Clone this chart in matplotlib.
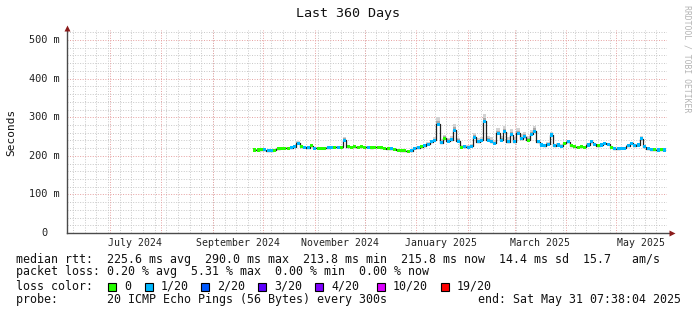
import numpy as np
import pandas as pd
import matplotlib
matplotlib.use('Agg')
import matplotlib.pyplot as plt
from matplotlib.patches import Rectangle
from matplotlib.transforms import offset_copy

plt.rc('font', family='DejaVu Sans Mono')

#%% data (median rtt in ms, every 2 days from 2024-09-26)
first_day = '2024-09-26'
median = [215, 215, 216, 216, 213, 213, 214, 218, 219, 220,
          220, 221, 223, 232, 224, 222, 221, 226, 220, 220,
          219, 220, 221, 222, 222, 222, 222, 240, 224, 222,
          223, 222, 223, 222, 222, 221, 222, 222, 221, 220,
          218, 218, 217, 214, 213, 213, 212, 213,
          220, 221, 224, 226, 230, 236, 240, 282, 234, 246, 238, 242,
          266, 238, 222, 223, 222, 225, 248, 236, 240, 290,
          240, 236, 232, 258, 240, 262, 236, 255, 236, 258,
          244, 250, 240, 256, 264, 236, 228, 226, 230, 254,
          226, 228, 225, 232, 236, 226, 223, 222, 223, 222,
          228, 236, 230, 226, 228, 232, 230, 222, 218, 218,
          219, 220, 226, 232, 226, 228, 244, 224, 218, 216,
          216, 215, 216, 215]
# loss level index per sample (0 -> 0 loss, 1 -> 1/20)
loss = [0, 0, 0, 1, 1, 1, 0, 0, 0, 0,
        0, 1, 1, 1, 0, 1, 1, 0, 1, 0,
        0, 0, 1, 1, 0, 1, 0, 1, 0, 0,
        0, 0, 0, 0, 1, 0, 0, 0, 0, 0,
        0, 1, 0, 0, 0, 0, 0, 1,
        1, 1, 0, 1, 1, 1, 1, 1, 1, 0, 1, 1,
        1, 1, 0, 1, 1, 1, 1, 1, 1, 1,
        1, 1, 1, 1, 1, 1, 1, 1, 1, 1,
        1, 1, 0, 1, 1, 1, 1, 1, 1, 1,
        1, 1, 1, 0, 1, 0, 0, 0, 0, 0,
        1, 1, 1, 0, 1, 1, 1, 0, 1, 1,
        1, 1, 1, 1, 1, 1, 1, 1, 1, 1,
        0, 1, 0, 1]
# smoke spread above median (ms)
spread = [3, 3, 3, 3, 3, 3, 3, 3, 3, 3,
          3, 3, 3, 6, 3, 3, 3, 5, 3, 3,
          3, 3, 3, 3, 3, 3, 3, 10, 3, 3,
          3, 3, 3, 3, 3, 3, 3, 3, 3, 3,
          3, 3, 3, 3, 3, 3, 3, 3,
          4, 4, 5, 5, 6, 6, 9, 18, 9, 9, 9, 9,
          16, 9, 5, 5, 5, 5, 12, 9, 9, 18,
          12, 12, 9, 14, 12, 14, 12, 14, 12, 14,
          12, 12, 12, 12, 14, 6, 5, 5, 5, 9,
          5, 5, 5, 5, 6, 3, 3, 3, 3, 3,
          4, 4, 4, 4, 4, 4, 4, 3, 3, 3,
          3, 3, 3, 3, 3, 3, 7, 3, 3, 3,
          3, 3, 3, 3]

loss_labels = ['0', '1/20', '2/20', '3/20', '4/20', '10/20', '19/20']
loss_colors = ['#26ff00', '#00b8ff', '#0059ff', '#5e00ff', '#7e00ff', '#dd00ff', '#ff0000']

yticks = [0, 100, 200, 300, 400, 500]
ytick_labels = ['0', '100 m', '200 m', '300 m', '400 m', '500 m']
month_labels = ['July 2024', 'September 2024', 'November 2024',
                'January 2025', 'March 2025', 'May 2025']
month_label_dates = ['2024-07-16', '2024-09-16', '2024-11-16',
                     '2025-01-16', '2025-03-16', '2025-05-16']

t_start = pd.Timestamp('2024-06-05 07:38:04')
t_end = pd.Timestamp('2025-05-31 07:38:04')

#%% figure
W, H = 697, 315
dpi = 100
fig = plt.figure(figsize=(W / dpi, H / dpi), dpi=dpi, facecolor='white')

x0, x1, y0, y1 = 67, 667, 233, 30
ax = fig.add_axes([x0 / W, 1 - y0 / H, (x1 - x0) / W, (y0 - y1) / H])
ax.set_facecolor('white')
ax.set_xlim(t_start, t_end)
ax.set_ylim(0, 526)
for s in ax.spines.values():
    s.set_visible(False)

# grid
minor_c = '#c8c8c8'
major_c = '#e6a0a0'
dots = (0, (1, 1.6))
for wk in pd.date_range('2024-06-09', '2025-05-31', freq='7D'):
    ax.axvline(wk, color=minor_c, lw=0.7, ls=dots, zorder=0)
for yv in range(20, 526, 20):
    if yv % 100:
        ax.axhline(yv, color=minor_c, lw=0.7, ls=dots, zorder=0)
for ms in pd.date_range('2024-07-01', '2025-05-01', freq='MS'):
    ax.axvline(ms, color=major_c, lw=0.7, ls=dots, zorder=0.5)
for yv in yticks[1:]:
    ax.axhline(yv, color=major_c, lw=0.7, ls=dots, zorder=0.5)

#%% smoke, median, loss colour
dates = pd.date_range(first_day, periods=len(median), freq='2D')
med = np.array(median, dtype=float)
spr = np.array(spread, dtype=float)
ax.fill_between(dates, med - 2, med + spr, step='mid', color='#d2d2d2', lw=0, zorder=1)
ax.fill_between(dates, med - 1, med + spr * 0.5, step='mid', color='#a8a8a8', lw=0, zorder=1.2)
ax.plot(dates, med, drawstyle='steps-mid', color='#202020', lw=0.9, zorder=2)
ax.bar(dates, 8, bottom=med - 4, width=1.9,
       color=[loss_colors[k] for k in loss], lw=0, zorder=3)

#%% axes, ticks
axis_c = '#4a4a4a'
ax.plot([0, 0], [0, 1], transform=ax.transAxes, color=axis_c, lw=1, clip_on=False, zorder=4)
ax.plot([0, 1.004], [0, 0], transform=ax.transAxes, color=axis_c, lw=1, clip_on=False, zorder=4)
ax.plot([0], [1.012], marker='^', ms=4.5, color='#8b1a1a', transform=ax.transAxes,
        clip_on=False, zorder=5, mec='none')
ax.plot([1.008], [0], marker='>', ms=4.5, color='#8b1a1a', transform=ax.transAxes,
        clip_on=False, zorder=5, mec='none')

ax.set_yticks([])
ytr = ax.get_yaxis_transform()
for yv, lab in zip(yticks, ytick_labels):
    off = -5.2 if lab != '0' else -14.2
    ax.text(0, yv, lab, transform=offset_copy(ytr, fig=fig, x=off, y=0, units='points'),
            ha='right', va='center', fontsize=7.4, color='#222222')

ax.set_xticks([pd.Timestamp(d) for d in month_label_dates])
ax.set_xticklabels(month_labels, fontsize=7.1, color='#222222')
ax.tick_params(axis='x', length=0, pad=3.5)

#%% texts
def fx(px):
    return px / W

def fy(py):
    return 1 - py / H

fig.text(fx(348), fy(14), 'Last 360 Days', ha='center', va='center', fontsize=9.6, color='#111111')
fig.text(fx(11), fy(132), 'Seconds', ha='center', va='center', rotation=90, fontsize=8, color='#111111')
fig.text(fx(687), fy(5), 'RRDTOOL / TOBI OETIKER', ha='center', va='top', rotation=270,
         fontsize=5.9, color='#b4b4b4')

leg_fs = 8.4
fig.text(fx(16), fy(259), 'median rtt:  225.6 ms avg  290.0 ms max  213.8 ms min  215.8 ms now  14.4 ms sd  15.7   am/s',
         ha='left', va='center', fontsize=leg_fs, color='#111111')
fig.text(fx(16), fy(272), 'packet loss: 0.20 % avg  5.31 % max  0.00 % min  0.00 % now',
         ha='left', va='center', fontsize=leg_fs, color='#111111')
fig.text(fx(16), fy(286), 'loss color:', ha='left', va='center', fontsize=leg_fs, color='#111111')
label_x = [124, 161, 217, 274, 331, 393, 457]
for lx, lab, col in zip(label_x, loss_labels, loss_colors):
    fig.patches.append(Rectangle((fx(lx - 16), fy(290.5)), 8 / W, 8 / H, transform=fig.transFigure,
                                 facecolor=col, edgecolor='black', lw=0.8, figure=fig))
    fig.text(fx(lx), fy(286), lab, ha='left', va='center', fontsize=leg_fs, color='#111111')
fig.text(fx(16), fy(300), 'probe:       20 ICMP Echo Pings (56 Bytes) every 300s',
         ha='left', va='center', fontsize=leg_fs, color='#111111')
fig.text(fx(681), fy(300), 'end: Sat May 31 07:38:04 2025',
         ha='right', va='center', fontsize=leg_fs, color='#111111')

plt.savefig('out.png', dpi=dpi, facecolor='white')
